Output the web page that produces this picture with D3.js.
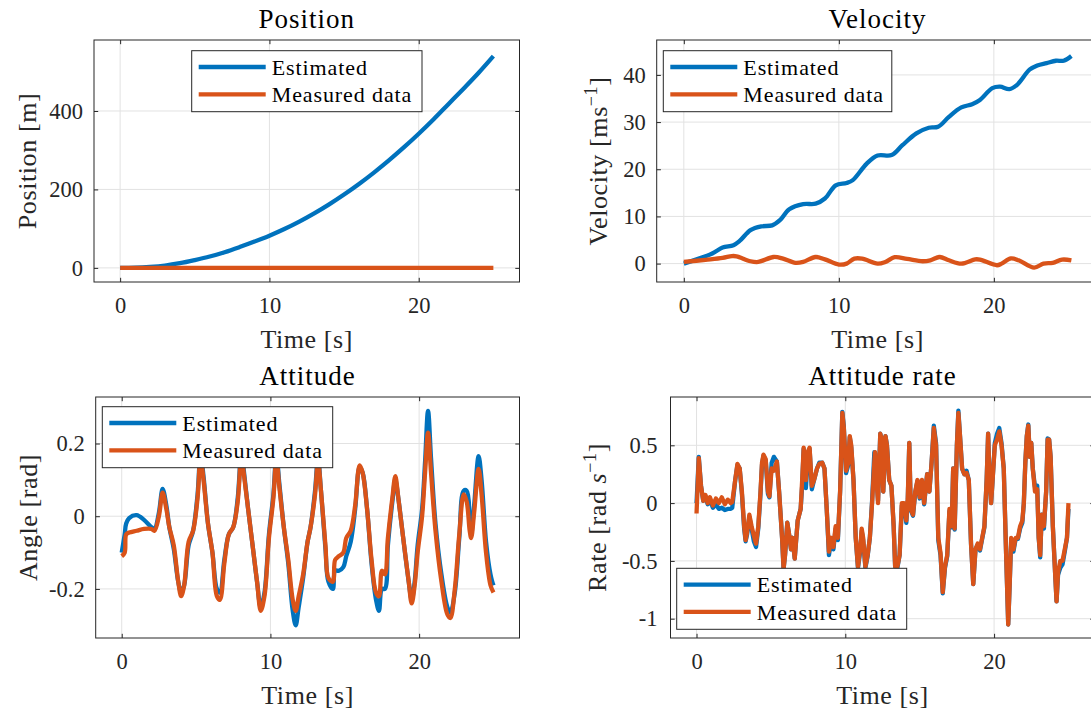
<!DOCTYPE html>
<html>
<head>
<meta charset="utf-8">
<script src="https://cdn.jsdelivr.net/npm/d3@7"></script>
<style>
  html, body { margin: 0; padding: 0; background: #ffffff; }
  svg { display: block; }
</style>
</head>
<body>
<svg id="fig" width="1091" height="713" font-family="'Liberation Serif', 'DejaVu Serif', serif"></svg>
<script>
// ---------- data ----------
// Position [m]
const posTime = [0,1,2,3,4,5,6,7,8,9,10,11,12,13,14,15,16,17,18,19,20,21,22,23,24,25];
const posEst  = [0,0.5,2.5,6,12,20,29,40,53,67,82,99,118,139,162,187,214,243,274,307,342,379,418,457,497,540];
const posMeas = [0,0,0,0,0,0,0,0,0,0,0,0,0,0,0,0,0,0,0,0,0,0,0,0,0,0];

// Velocity [m/s]
const velEstTime = [0,1.8,2.5,3.2,3.6,4.3,5.0,5.7,6.2,6.8,7.7,8.5,9.1,9.8,10.5,10.9,11.8,12.5,13.4,14.1,
                    15.0,15.8,16.4,17.1,17.9,18.6,19.1,19.9,20.4,21.0,21.5,22.3,22.8,23.4,24.0,24.5,25.0];
const velEst     = [0,2.1,3.4,3.9,4.8,7.1,7.9,8.1,9.2,11.5,12.6,12.7,13.8,16.6,17.1,17.7,21.2,22.9,23.0,25.1,
                    27.6,28.8,29.0,31.1,33.1,33.8,34.7,37.2,37.5,37.0,37.9,41.1,42.0,42.5,43.0,43.0,44.0];
const velMeasTime = [0,1.4,2.5,3.1,3.4,4.3,4.8,5.8,6.4,7.2,7.7,8.5,9.1,10.0,10.5,11.0,11.5,12.5,13.0,13.6,
                     14.4,15.4,15.9,16.5,17.1,17.9,18.8,19.1,20.2,20.5,21.1,21.6,22.6,23.2,23.8,24.4,25.0];
const velMeas     = [0.35,0.8,1.2,1.6,1.55,0.5,0.35,1.4,1.05,0.15,0.35,1.4,0.9,-0.2,0.0,1.05,1.05,0.0,0.35,1.35,
                     1.0,0.5,0.7,1.4,0.7,0.0,0.9,0.85,-0.35,0.0,1.1,0.7,-0.85,0.0,0.15,0.85,0.7];

// Attitude [rad]
const attTime = [0,0.2,0.3,0.5,1.0,1.5,2.0,2.2,2.5,2.75,
                 3.0,3.2,3.5,3.8,4.0,4.2,4.5,4.8,5.1,5.3,
                 5.5,5.8,6.1,6.4,6.6,6.9,7.2,7.5,7.8,8.05,
                 8.2,8.5,8.8,9.1,9.35,9.6,9.9,10.2,10.4,10.6,
                 10.9,11.2,11.5,11.7,11.9,12.2,12.5,12.7,13.0,13.2,
                 13.4,13.7,13.9,14.2,14.35,14.6,14.9,15.1,15.4,15.7,
                 16.0,16.2,16.5,16.8,17.1,17.3,17.5,17.7,17.9,18.2,
                 18.4,18.6,18.9,19.3,19.5,19.7,19.9,20.2,20.4,20.6,
                 20.8,21.1,21.5,21.9,22.1,22.4,22.7,23.0,23.2,23.4,
                 23.5,23.7,24.0,24.2,24.5,24.8,25.0];
const attEst  = [-0.10,-0.05,-0.02,-0.005,0.003,-0.01,-0.03,-0.035,0.01,0.075,
                 0.03,-0.03,-0.09,-0.18,-0.21,-0.19,-0.08,-0.04,0.06,0.17,
                 0.11,-0.02,-0.10,-0.20,-0.21,-0.12,-0.05,-0.03,0.05,0.18,
                 0.13,0.02,-0.08,-0.18,-0.25,-0.21,-0.05,0.06,0.17,0.09,
                 -0.03,-0.13,-0.26,-0.30,-0.25,-0.17,-0.07,-0.03,0.07,0.16,
                 0.07,-0.09,-0.18,-0.20,-0.15,-0.15,-0.14,-0.11,-0.07,0.02,
                 0.135,0.12,0.02,-0.13,-0.23,-0.26,-0.20,-0.20,-0.08,0.04,
                 0.10,0.05,-0.05,-0.18,-0.23,-0.18,-0.08,0.02,0.15,0.29,
                 0.16,-0.02,-0.16,-0.25,-0.265,-0.21,-0.06,0.07,0.07,0.0,
                 -0.05,0.03,0.165,0.10,-0.07,-0.16,-0.19];
const attMeas = [-0.11,-0.10,-0.05,-0.045,-0.04,-0.035,-0.035,-0.04,0.0,0.065,
                 0.02,-0.03,-0.08,-0.18,-0.22,-0.19,-0.07,-0.04,0.05,0.16,
                 0.10,-0.02,-0.10,-0.22,-0.23,-0.13,-0.05,-0.03,0.04,0.17,
                 0.12,0.02,-0.08,-0.18,-0.26,-0.22,-0.06,0.05,0.16,0.08,
                 -0.03,-0.12,-0.23,-0.26,-0.22,-0.16,-0.07,-0.03,0.06,0.15,
                 0.07,-0.08,-0.17,-0.18,-0.12,-0.11,-0.10,-0.06,-0.04,0.03,
                 0.14,0.12,0.02,-0.12,-0.21,-0.22,-0.15,-0.16,-0.06,0.05,
                 0.11,0.05,-0.05,-0.18,-0.24,-0.19,-0.10,0.0,0.12,0.23,
                 0.12,-0.04,-0.18,-0.27,-0.28,-0.20,-0.05,0.06,0.04,-0.04,
                 -0.06,0.01,0.13,0.06,-0.10,-0.19,-0.21];

// Attitude rate [rad/s]
const rateTime = [0,0.15,0.3,0.45,0.6,0.75,0.9,1.1,1.3,1.5,
                  1.7,1.9,2.1,2.3,2.4,2.6,2.75,2.9,3.05,3.2,
                  3.3,3.4,3.55,3.7,3.85,4.0,4.15,4.3,4.4,4.5,
                  4.65,4.8,4.9,5.05,5.2,5.4,5.55,5.75,5.85,5.95,
                  6.1,6.2,6.35,6.45,6.6,6.8,7.0,7.1,7.2,7.35,
                  7.5,7.6,7.75,7.9,8.1,8.25,8.45,8.6,8.75,8.9,
                  9.05,9.2,9.35,9.5,9.65,9.8,9.9,10.05,10.2,10.3,
                  10.4,10.55,10.7,10.85,11.0,11.1,11.2,11.35,11.5,11.65,
                  11.8,11.95,12.0,12.1,12.2,12.35,12.45,12.55,12.7,12.8,
                  12.95,13.1,13.25,13.35,13.5,13.65,13.8,13.95,14.1,14.2,
                  14.3,14.4,14.55,14.7,14.85,15.0,15.15,15.3,15.5,15.65,
                  15.8,15.95,16.1,16.25,16.4,16.55,16.7,16.85,17.0,17.15,
                  17.25,17.35,17.5,17.6,17.7,17.85,18.0,18.15,18.3,18.45,
                  18.6,18.75,18.9,19.05,19.2,19.35,19.5,19.6,19.7,19.8,
                  19.9,20.05,20.2,20.35,20.5,20.65,20.8,20.95,21.05,21.15,
                  21.3,21.45,21.6,21.75,21.9,22.0,22.1,22.2,22.3,22.4,
                  22.5,22.6,22.75,22.9,23.0,23.1,23.2,23.35,23.5,23.6,
                  23.7,23.8,23.95,24.1,24.2,24.3,24.45,24.6,24.75,24.9,
                  25.0];
const rateEst  = [0.0,0.40,0.15,0.02,0.06,-0.01,0.03,-0.04,-0.01,-0.05,
                  -0.04,-0.06,-0.05,-0.05,-0.04,0.20,0.33,0.30,0.08,-0.22,
                  -0.33,-0.27,-0.12,-0.22,-0.33,-0.38,-0.22,0.08,0.33,0.41,
                  0.37,0.08,0.05,0.35,0.40,0.36,0.10,-0.30,-0.57,-0.45,
                  -0.17,-0.25,-0.40,-0.30,-0.48,-0.15,-0.05,0.15,0.47,0.13,
                  0.44,0.47,0.12,0.20,0.30,0.35,0.35,0.30,-0.05,-0.45,
                  -0.32,-0.40,-0.22,-0.32,0.10,0.79,0.66,0.26,0.33,0.57,
                  0.48,0.20,-0.30,-0.56,-0.42,-0.24,-0.32,-0.56,-0.46,-0.30,
                  0.02,0.44,0.43,0.22,0.02,0.60,0.55,0.10,0.58,0.50,
                  0.20,0.15,-0.20,-0.55,-0.56,-0.45,-0.02,-0.02,-0.17,0.03,
                  0.52,-0.06,-0.11,0.09,0.19,0.04,0.19,-0.01,0.25,0.10,
                  0.35,0.67,0.52,-0.32,-0.45,-0.78,-0.56,-0.46,-0.07,-0.21,
                  0.30,-0.23,0.50,0.80,0.60,0.30,0.25,0.28,0.20,-0.35,
                  -0.70,-0.40,-0.36,-0.41,-0.31,-0.21,0.20,0.60,0.20,0.0,
                  0.20,0.52,0.60,0.65,0.52,0.30,-0.40,-1.05,-0.70,-0.32,
                  -0.42,-0.31,-0.31,-0.22,-0.17,0.0,0.35,0.58,0.68,0.40,
                  0.52,0.30,0.14,0.15,-0.30,-0.47,-0.10,-0.22,0.10,0.56,
                  0.55,0.40,-0.20,-0.60,-0.85,-0.62,-0.56,-0.53,-0.42,-0.30,
                  -0.05];
const rateMeas = [-0.09,0.39,0.15,0.02,0.07,0.0,0.05,-0.02,0.04,0.0,
                  0.05,-0.01,0.03,0.0,0.01,0.20,0.34,0.30,0.10,-0.20,
                  -0.32,-0.25,-0.10,-0.20,-0.28,-0.35,-0.20,0.10,0.35,0.42,
                  0.38,0.10,0.06,0.30,0.28,0.36,0.10,-0.30,-0.57,-0.45,
                  -0.17,-0.25,-0.40,-0.30,-0.48,-0.15,-0.05,0.20,0.48,0.20,
                  0.45,0.48,0.15,0.20,0.30,0.34,0.35,0.30,-0.05,-0.42,
                  -0.30,-0.38,-0.20,-0.30,0.10,0.78,0.65,0.28,0.35,0.58,
                  0.50,0.20,-0.30,-0.55,-0.40,-0.22,-0.30,-0.55,-0.45,-0.30,
                  0.0,0.35,0.44,0.20,0.0,0.60,0.55,0.10,0.58,0.50,
                  0.20,0.15,-0.20,-0.55,-0.55,-0.45,0.0,0.0,-0.15,0.05,
                  0.52,-0.05,-0.10,0.10,0.20,0.05,0.20,0.0,0.25,0.10,
                  0.35,0.65,0.50,-0.30,-0.43,-0.77,-0.55,-0.45,-0.05,-0.20,
                  0.30,-0.22,0.50,0.78,0.60,0.30,0.25,0.26,0.20,-0.35,
                  -0.70,-0.40,-0.35,-0.40,-0.30,-0.20,0.20,0.60,0.20,0.0,
                  0.20,0.50,0.55,0.62,0.50,0.30,-0.40,-1.05,-0.70,-0.30,
                  -0.40,-0.30,-0.30,-0.20,-0.15,0.0,0.35,0.58,0.67,0.40,
                  0.52,0.30,0.10,0.12,-0.30,-0.45,-0.10,-0.20,0.10,0.55,
                  0.55,0.40,-0.20,-0.60,-0.85,-0.60,-0.50,-0.50,-0.40,-0.30,
                  0.0];

// Tick values and labels
const timeTicks = [0, 10, 20];
const posTicks = [0, 200, 400];
const velTicks = [0, 10, 20, 30, 40];
const attTicks = [-0.2, 0, 0.2];
const attTickLabels = ["-0.2", "0", "0.2"];
const rateTicks = [-1, -0.5, 0, 0.5];
const rateTickLabels = ["-1", "-0.5", "0", "0.5"];
const seriesNames = ["Estimated", "Measured data"];

// ---------- style ----------
const FONT = "'Liberation Serif', 'DejaVu Serif', serif";
const BLUE = "#0072BD", RED = "#D95319", INK = "#262626", GRID = "#e2e2e2";
const TICK_FONT = 22.5, LABEL_FONT = 26, TITLE_FONT = 27, LEGEND_FONT = 22;
const LINE_W = 4.3, TICK_LEN = 4.2;

const svg = d3.select("#fig");
svg.append("rect").attr("width", 1091).attr("height", 713).attr("fill", "#fff");

function styleAxis(sel) {
  sel.attr("font-family", FONT).attr("font-size", null);
  sel.select(".domain").remove();
  sel.selectAll(".tick line").attr("stroke", INK).attr("stroke-width", 1);
  sel.selectAll(".tick text")
    .attr("fill", INK)
    .attr("font-family", FONT)
    .style("font-size", TICK_FONT + "px");
}

function drawPanel(p) {
  const g = svg.append("g").attr("font-family", FONT);
  const b = p.box;
  const x = d3.scaleLinear().domain(p.xDomain).range([b.left, b.right]);
  const y = d3.scaleLinear().domain(p.yDomain).range([b.bottom, b.top]);

  // grid
  g.append("g").selectAll("line").data(timeTicks).join("line")
    .attr("x1", d => x(d)).attr("x2", d => x(d))
    .attr("y1", b.top).attr("y2", b.bottom)
    .attr("stroke", GRID).attr("stroke-width", 1);
  g.append("g").selectAll("line").data(p.yTicks).join("line")
    .attr("y1", d => y(d)).attr("y2", d => y(d))
    .attr("x1", b.left).attr("x2", b.right)
    .attr("stroke", GRID).attr("stroke-width", 1);

  // data lines: estimated first, measured on top
  const line = d3.line().x(d => x(d[0])).y(d => y(d[1])).curve(p.curve);
  p.series.forEach(s => {
    g.append("path")
      .datum(d3.zip(s.t, s.v))
      .attr("d", line)
      .attr("fill", "none")
      .attr("stroke", s.color)
      .attr("stroke-width", LINE_W)
      .attr("stroke-linejoin", "round");
  });

  // axes, ticks pointing inward on all four sides
  const fmtY = d => p.yLabels ? p.yLabels[p.yTicks.indexOf(d)] : d3.format("d")(d);
  g.append("g").attr("transform", `translate(0,${b.bottom})`)
    .call(d3.axisBottom(x).tickValues(timeTicks).tickFormat(d3.format("d"))
      .tickSizeInner(-TICK_LEN).tickSizeOuter(0).tickPadding(15))
    .call(styleAxis);
  g.append("g").attr("transform", `translate(0,${b.top})`)
    .call(d3.axisTop(x).tickValues(timeTicks).tickFormat("")
      .tickSizeInner(-TICK_LEN).tickSizeOuter(0))
    .call(styleAxis);
  g.append("g").attr("transform", `translate(${b.left},0)`)
    .call(d3.axisLeft(y).tickValues(p.yTicks).tickFormat(fmtY)
      .tickSizeInner(-TICK_LEN).tickSizeOuter(0).tickPadding(p.yPad))
    .call(styleAxis);
  g.append("g").attr("transform", `translate(${b.right},0)`)
    .call(d3.axisRight(y).tickValues(p.yTicks).tickFormat("")
      .tickSizeInner(-TICK_LEN).tickSizeOuter(0))
    .call(styleAxis);

  // box
  g.append("rect")
    .attr("x", b.left).attr("y", b.top)
    .attr("width", b.right - b.left).attr("height", b.bottom - b.top)
    .attr("fill", "none").attr("stroke", INK).attr("stroke-width", 1);

  const cx = (b.left + b.right) / 2, cy = (b.top + b.bottom) / 2;

  // title
  g.append("text")
    .attr("x", cx).attr("y", b.top - 12.5)
    .attr("text-anchor", "middle")
    .attr("fill", "#000")
    .attr("font-family", FONT)
    .style("font-size", TITLE_FONT + "px")
    .style("letter-spacing", "1px")
    .text(p.title);

  // x label
  g.append("text")
    .attr("x", cx).attr("y", b.bottom + 66)
    .attr("text-anchor", "middle")
    .attr("fill", INK)
    .attr("font-family", FONT)
    .style("font-size", LABEL_FONT + "px")
    .style("letter-spacing", "0.6px")
    .text("Time [s]");

  // y label (rotated, may contain italic and superscript parts)
  const yl = g.append("text")
    .attr("transform", `translate(${p.yLabelX},${cy}) rotate(-90)`)
    .attr("text-anchor", "middle")
    .attr("fill", INK)
    .attr("font-family", FONT)
    .style("font-size", LABEL_FONT + "px")
    .style("letter-spacing", "0.6px");
  p.yLabel.forEach(part => {
    const ts = yl.append("tspan").text(part.t);
    if (part.italic) ts.style("font-style", "italic");
    if (part.sup) ts.style("font-size", "18px").attr("dy", -10);
    if (part.after) ts.attr("dy", 10);
  });

  // legend
  const L = p.legend;
  const lg = g.append("g").attr("transform", `translate(${L.x},${L.y})`);
  lg.append("rect").attr("width", L.w).attr("height", 61)
    .attr("fill", "#fff").attr("stroke", INK).attr("stroke-width", 1);
  const rows = [16.3, 43.6];
  p.series.forEach((s, i) => {
    lg.append("line")
      .attr("x1", 7).attr("x2", 74)
      .attr("y1", rows[i]).attr("y2", rows[i])
      .attr("stroke", s.color).attr("stroke-width", LINE_W);
    lg.append("text")
      .attr("x", 80).attr("y", rows[i]).attr("dy", "0.35em")
      .attr("fill", "#000")
      .attr("font-family", FONT)
      .style("font-size", LEGEND_FONT + "px")
      .style("letter-spacing", "0.9px")
      .text(seriesNames[i]);
  });
}

const smooth = d3.curveCatmullRom.alpha(0.5);

drawPanel({
  title: "Position",
  box: { left: 94, right: 519.5, top: 40, bottom: 282 },
  xDomain: [-1.75, 26.75], yDomain: [-36, 581],
  yTicks: posTicks, yPad: 11,
  yLabel: [{ t: "Position [m]" }], yLabelX: 36,
  curve: smooth,
  series: [{ t: posTime, v: posEst, color: BLUE }, { t: posTime, v: posMeas, color: RED }],
  legend: { x: 191.7, y: 50.7, w: 230.3 }
});

drawPanel({
  title: "Velocity",
  box: { left: 656.7, right: 1098.5, top: 40, bottom: 282 },
  xDomain: [-1.75, 26.75], yDomain: [-3.9, 47.4],
  yTicks: velTicks, yPad: 11,
  yLabel: [{ t: "Velocity [ms" }, { t: "\u22121", sup: true }, { t: "]", after: true }], yLabelX: 607,
  curve: smooth,
  series: [{ t: velEstTime, v: velEst, color: BLUE }, { t: velMeasTime, v: velMeas, color: RED }],
  legend: { x: 663.3, y: 50.7, w: 228.5 }
});

drawPanel({
  title: "Attitude",
  box: { left: 95.7, right: 519.5, top: 397, bottom: 638 },
  xDomain: [-1.75, 26.75], yDomain: [-0.335, 0.328],
  yTicks: attTicks, yLabels: attTickLabels, yPad: 11,
  yLabel: [{ t: "Angle [rad]" }], yLabelX: 37,
  curve: smooth,
  series: [{ t: attTime, v: attEst, color: BLUE }, { t: attTime, v: attMeas, color: RED }],
  legend: { x: 102.3, y: 406.7, w: 230.4 }
});

drawPanel({
  title: "Attitude rate",
  box: { left: 670.5, right: 1094.5, top: 397, bottom: 638 },
  xDomain: [-1.75, 26.75], yDomain: [-1.167, 0.918],
  yTicks: rateTicks, yLabels: rateTickLabels, yPad: 13,
  yLabel: [{ t: "Rate [rad " }, { t: "s", italic: true }, { t: "\u22121", sup: true }, { t: "]", after: true }], yLabelX: 606,
  curve: d3.curveLinear,
  series: [{ t: rateTime, v: rateEst, color: BLUE }, { t: rateTime, v: rateMeas, color: RED }],
  legend: { x: 676.7, y: 568.3, w: 230 }
});
</script>
</body>
</html>
